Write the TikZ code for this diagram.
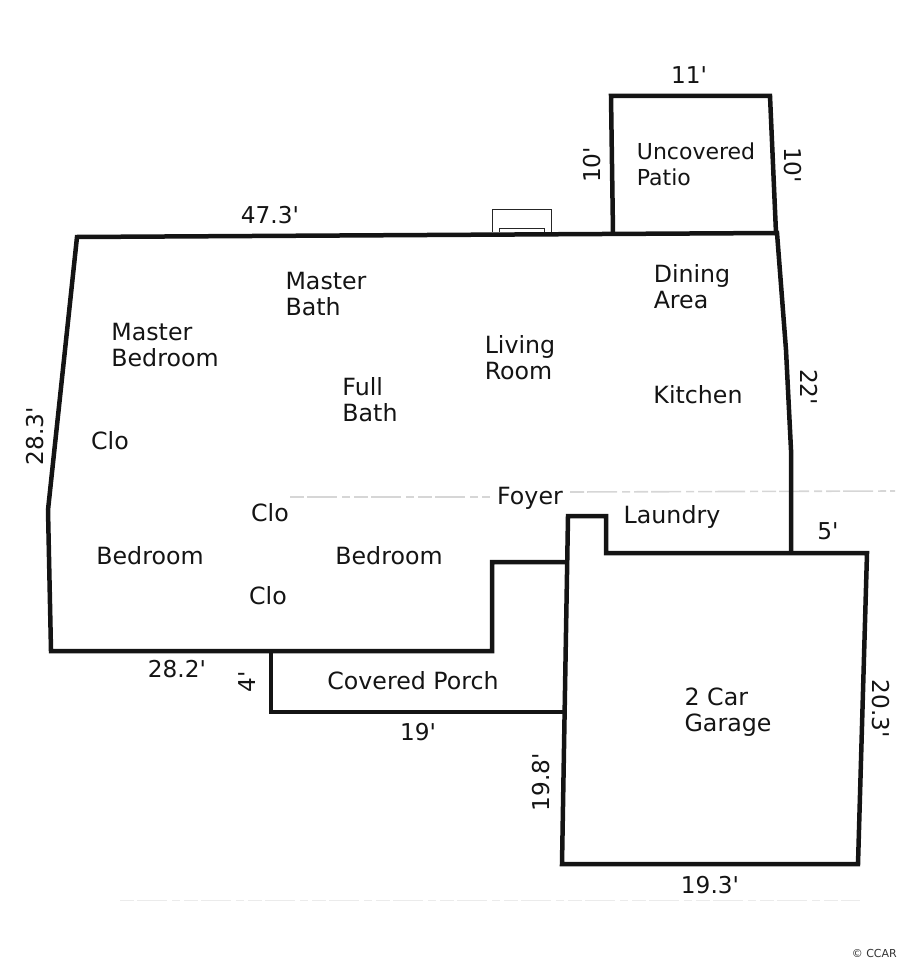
\documentclass[tikz,border=0pt]{standalone}
\usepackage{fontspec}
\setmainfont[Ligatures=TeXOff]{DejaVu Sans}
\tikzstyle{wall} = [line width=4.5pt,line join=miter,black!92]
\tikzstyle{thinwall} = [line width=1pt,black!85]
\tikzstyle{room} = [inner sep=0pt,align=left,font=\fontsize{23.7}{26}\selectfont,text=black!92]
\tikzstyle{size} = [inner sep=0pt,font=\fontsize{23.2}{26}\selectfont,text=black!92]
\tikzstyle{scan} = [line width=1.6pt,black!16,dash pattern=on 14pt off 3pt on 30pt off 5pt on 8pt off 4pt]

\begin{document}
\begin{tikzpicture}[x=1pt,y=-1pt]
    \useasboundingbox (0,0) rectangle (900,960);

    % scanner noise
    \draw [scan] (290,497) -- (490,497);
    \draw [scan] (570,492) -- (895,491);
    \draw [scan,line width=0.7pt,black!8] (120,900) -- (860,900);

    % house
    \draw [wall] (568,562) -- (492,562) -- (492,651) -- (51,651) -- (48,510)
      -- (77,237) -- (777,233) -- (786,350) -- (791,450) -- (791,553);
    % porch
    \draw [wall] (271,651) -- (271,712) -- (565,712);
    % garage and laundry
    \draw [wall] (791,553) -- (867,553) -- (858,864) -- (562,864) -- (568,516)
      -- (606,516) -- (606,553) -- (791,553) -- cycle;
    % patio
    \draw [wall] (613,233) -- (611,96) -- (770,96) -- (776,233);
    % fireplace
    \draw [thinwall] (492,232) -- (492,209) -- (551,209) -- (551,232);
    \draw [thinwall] (499,232) -- (499,228) -- (544,228) -- (544,232);

    \node (patio)     [room,font=\fontsize{22}{26}\selectfont] at (696,164) {Uncovered\\Patio};
    \node (dining)    [room] at (692,287) {Dining\\Area};
    \node (masterbth) [room] at (326,294) {Master\\Bath};
    \node (masterbed) [room] at (165,345) {Master\\Bedroom};
    \node (living)    [room] at (520,358) {Living\\Room};
    \node (fullbath)  [room] at (370,400) {Full\\Bath};
    \node (kitchen)   [room] at (698,395) {Kitchen};
    \node (clo-a)     [room] at (110,441) {Clo};
    \node (foyer)     [room] at (530,498) {Foyer};
    \node (clo-b)     [room] at (270,513) {Clo};
    \node (laundry)   [room] at (672,517) {Laundry};
    \node (bed-a)     [room] at (150,556) {Bedroom};
    \node (bed-b)     [room] at (389,556) {Bedroom};
    \node (clo-c)     [room] at (268,596) {Clo};
    \node (porch)     [room] at (413,681) {Covered Porch};
    \node (garage)    [room] at (728,712) {2 Car\\Garage};

    \node (s-patio-t) [size] at (689,75) {11'};
    \node (s-patio-l) [size,rotate=90] at (592,165) {10'};
    \node (s-patio-r) [size,rotate=-90] at (793,165) {10'};
    \node (s-top)     [size] at (270,215) {47.3'};
    \node (s-right)   [size,rotate=-90] at (809,387) {22'};
    \node (s-left)    [size,rotate=90] at (35,436) {28.3'};
    \node (s-gar-top) [size] at (828,531) {5'};
    \node (s-bottom)  [size] at (177,669) {28.2'};
    \node (s-porch-l) [size,rotate=90] at (247,682) {4'};
    \node (s-porch-b) [size] at (418,732) {19'};
    \node (s-gar-r)   [size,rotate=-90] at (881,709) {20.3'};
    \node (s-gar-l)   [size,rotate=90] at (541,782) {19.8'};
    \node (s-gar-b)   [size] at (710,885) {19.3'};

    \node (ccar) [inner sep=0pt,anchor=east,font=\fontsize{11}{14}\selectfont,text=black!80] at (897,953) {© CCAR};
\end{tikzpicture}
\end{document}
